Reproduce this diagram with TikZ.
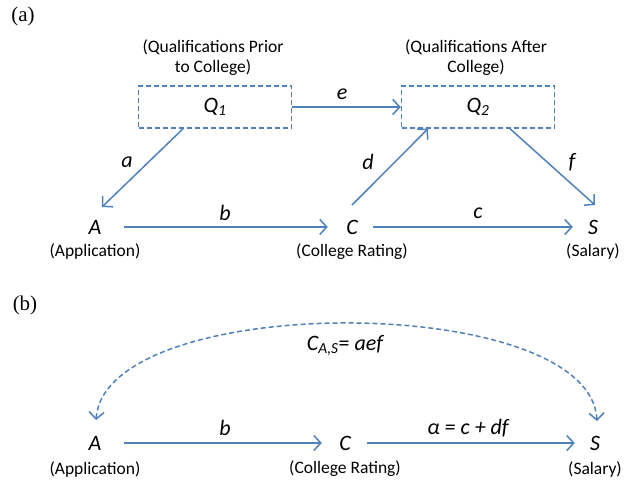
\documentclass[tikz,border=0pt]{standalone}
\usepackage{fontspec}
\setmainfont{Carlito}
\newfontfamily\serifont{Liberation Serif}
\usetikzlibrary{arrows.meta}
\definecolor{lblue}{HTML}{4F81BD}
\tikzset{
 tip/.tip={Straight Barb[length=7pt,width=15pt,line width=1.5pt]},
 conn/.style={draw=lblue, line width=1.5pt, -tip},
 dconn/.style={draw=lblue, line width=1.5pt, dash pattern=on 5pt off 3pt, tip-tip},
 qbox/.style={draw=lblue, dash pattern=on 5pt off 3pt, line width=1.5pt, minimum width=153pt, minimum height=42pt, inner sep=0pt, font=\fontsize{22}{22}\selectfont},
 var/.style={font=\fontsize{22}{22}\selectfont\itshape, inner sep=0pt, minimum width=44pt},
 lab/.style={font=\fontsize{17.5}{20}\selectfont, align=center, inner sep=0pt},
 elab/.style={font=\fontsize{22}{22}\selectfont\itshape, inner sep=0pt},
 panel/.style={font=\fontsize{21}{21}\selectfont\serifont, inner sep=0pt},
}
\begin{document}
\begin{tikzpicture}[x=1pt,y=-1pt]
\useasboundingbox (0,0) rectangle (636,485);
% panel (a)
\node[panel] (pa) at (23,16) {(a)};
\node[qbox] (Q1) at (215,107) {\textit{Q}\textsubscript{\textit{1}}};
\node[qbox] (Q2) at (478,107) {\textit{Q}\textsubscript{\textit{2}}};
\node[lab] (q1l) at (213,58) {(Qualifications Prior\\to College)};
\node[lab] (q2l) at (476,58) {(Qualifications After\\College)};
\node[var] (A) at (95,227) {A};
\node[var] (C) at (352,227) {C};
\node[var] (S) at (593,227) {S};
\node[lab] (Al) at (95,252) {(Application)};
\node[lab] (Cl) at (352,252) {(College Rating)};
\node[lab] (Sl) at (593,252) {(Salary)};
\draw[conn] (Q1.east) -- (Q2.west);
\draw[conn] ([xshift=7pt]A.east) -- ([xshift=-2pt]C.west);
\draw[conn] ([xshift=-1pt]C.east) -- ([xshift=2pt]S.west);
\draw[conn] ([xshift=-32pt]Q1.south) -- ([xshift=7pt,yshift=20pt]A.center);
\draw[conn] ([yshift=22pt]C.center) -- ([xshift=-50pt]Q2.south);
\draw[conn] ([xshift=32pt]Q2.south) -- ([xshift=2pt,yshift=22pt]S.center);
\node[elab] (le) at (342,94) {e};
\node[elab] (la) at (127,162) {a};
\node[elab] (ld) at (368,162) {d};
\node[elab] (lf) at (572,162) {f};
\node[elab] (lb) at (225,213) {b};
\node[elab] (lc) at (478,213) {c};
% panel (b)
\node[panel] (pb) at (25,305) {(b)};
\node[var] (A2) at (95,443) {A};
\node[var] (C2) at (345,443) {C};
\node[var] (S2) at (595,443) {S};
\node[lab] (A2l) at (95,469) {(Application)};
\node[lab] (C2l) at (345,469) {(College Rating)};
\node[lab] (S2l) at (595,469) {(Salary)};
\draw[conn] ([xshift=7pt]A2.east) -- ([xshift=-1pt]C2.west);
\draw[conn] ([xshift=0pt]C2.east) -- ([xshift=2pt]S2.west);
\node[elab] (lb2) at (225,428) {b};
\node[elab] (lal) at (468,428) {α = c + df};
\coordinate (sS) at ([xshift=2pt,yshift=22pt]S2.center);
\coordinate (sA) at ([xshift=1pt,yshift=23pt]A2.center);
\draw[dconn] (sA) .. controls (105,291) and (590,291) .. (sS);
\node[elab] (lcas) at (345,345) {C\textsubscript{A,S}\upshape= \itshape aef};
\end{tikzpicture}
\end{document}
